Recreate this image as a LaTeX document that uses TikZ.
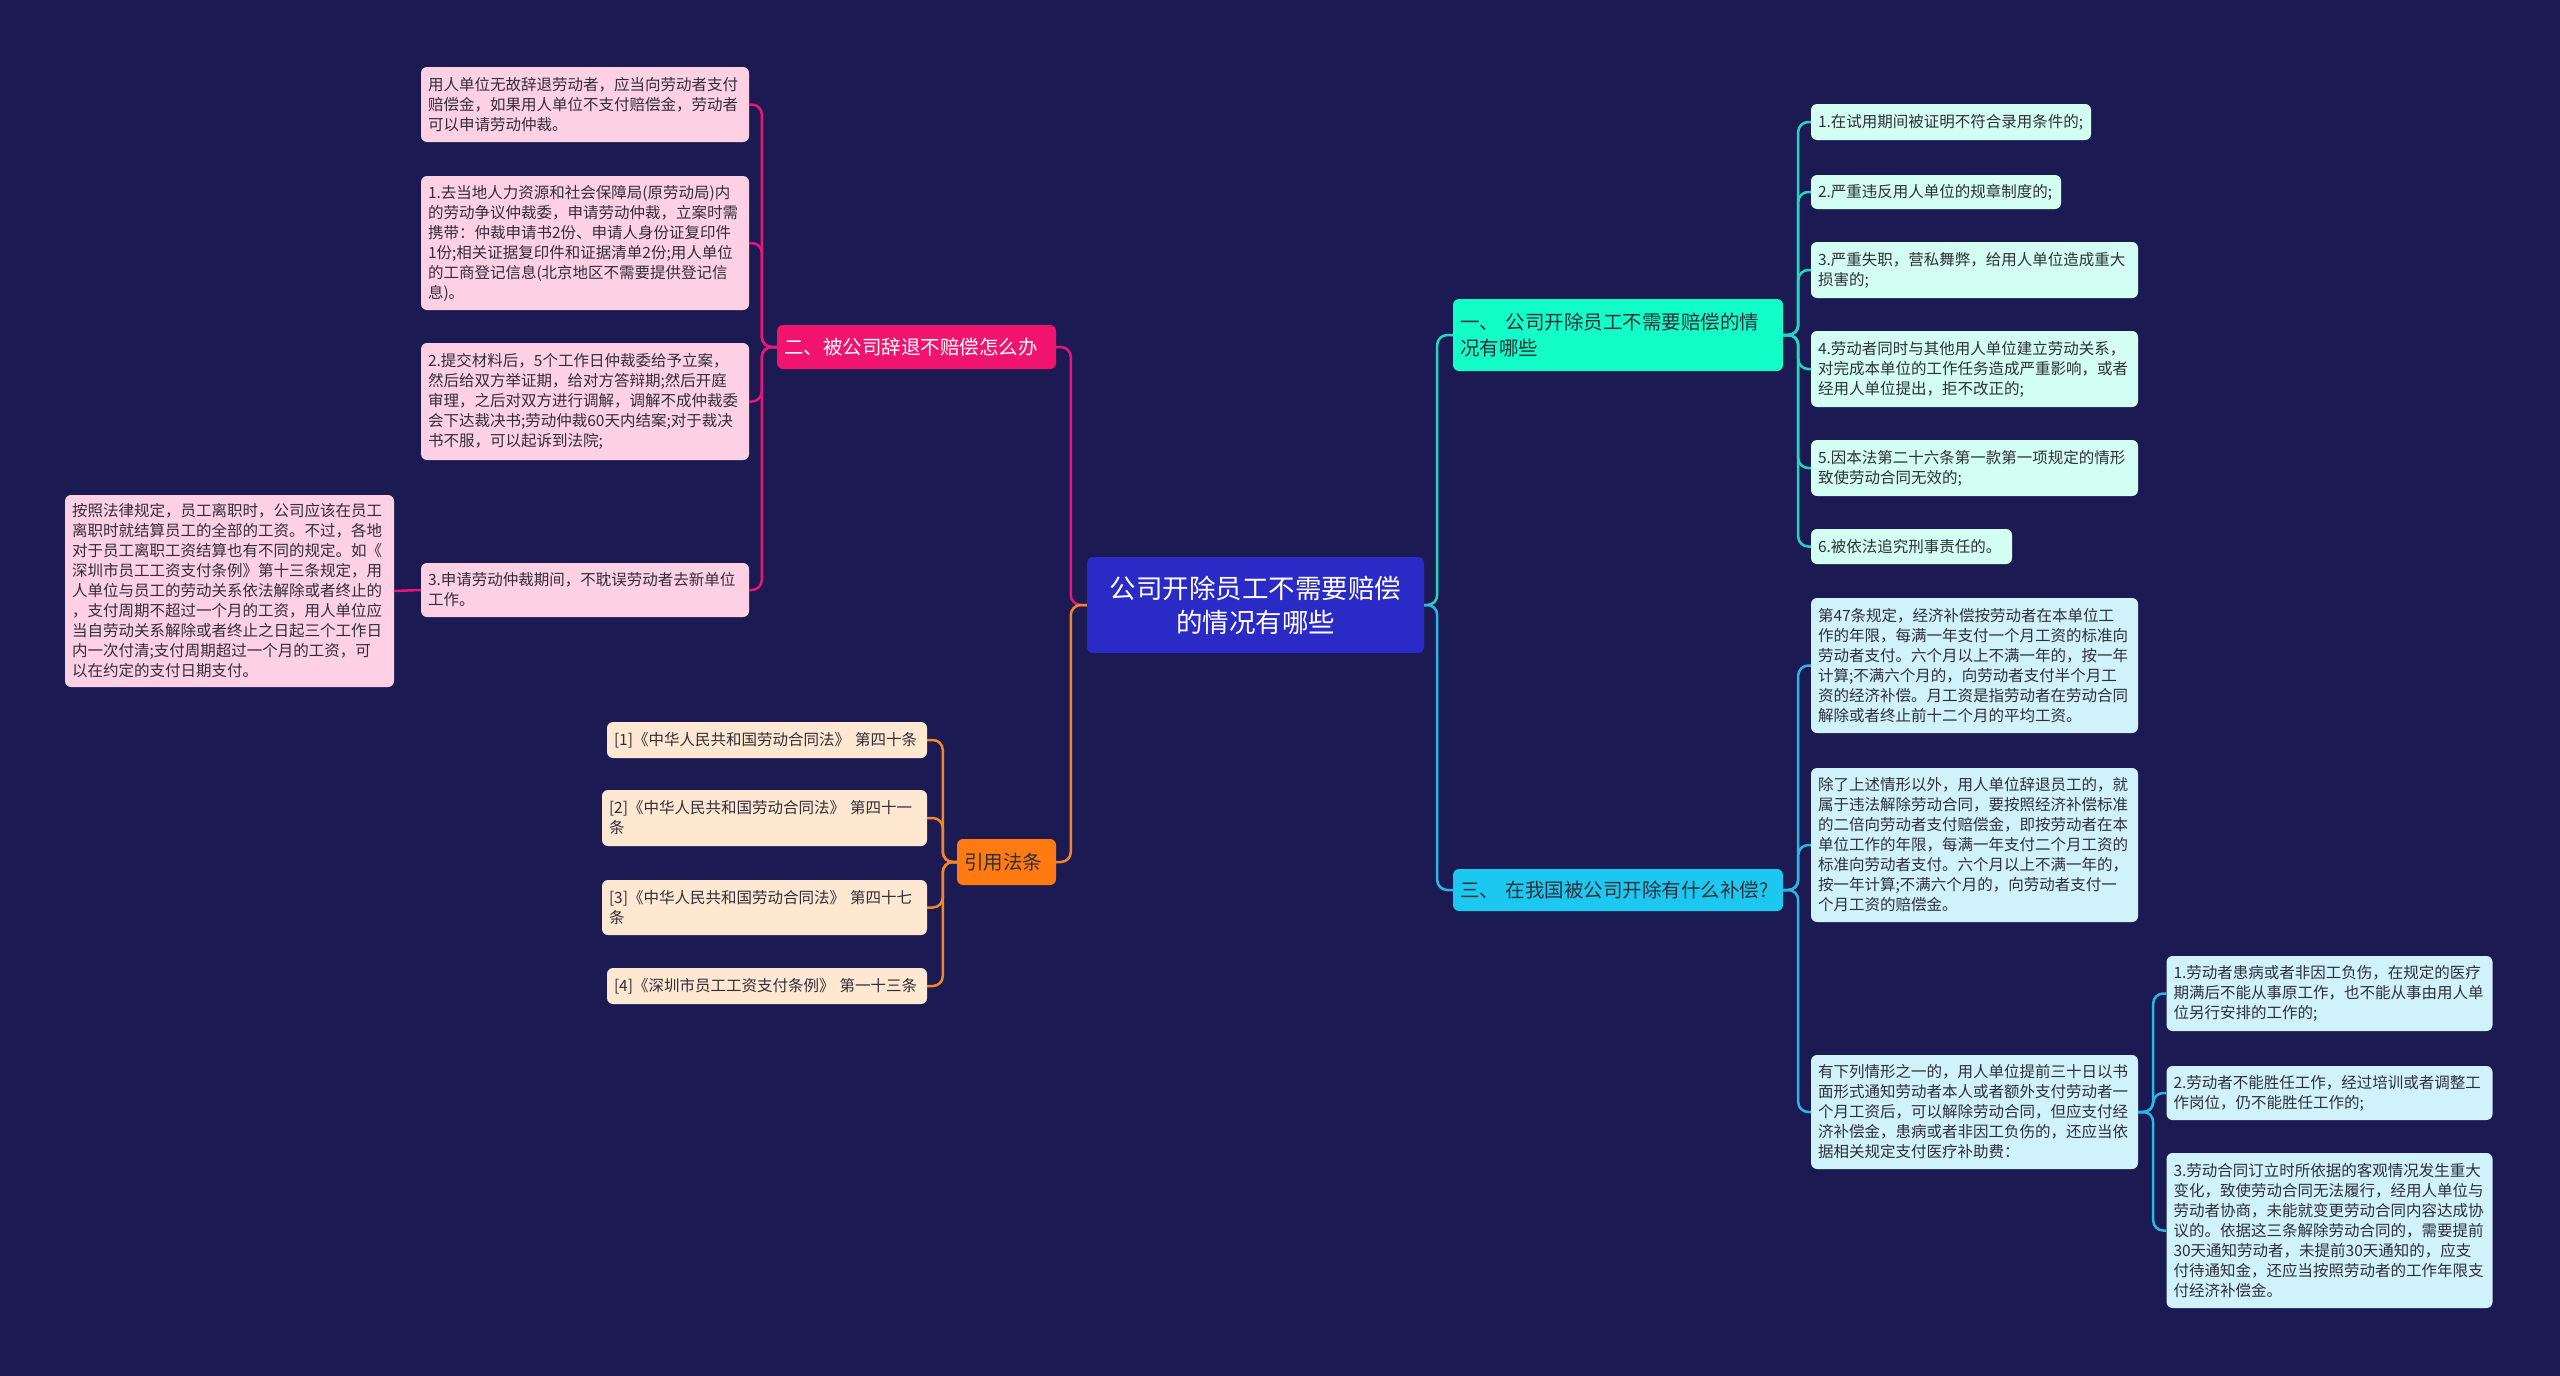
\documentclass[tikz,border=0pt]{standalone}
\usepackage{fontspec}
\setmainfont{Noto Sans CJK SC}
\definecolor{bg}{HTML}{1B1A52}
\definecolor{ctrfill}{HTML}{2A2AC6}
\definecolor{pinkbr}{HTML}{F0146E}
\definecolor{pinkleaf}{HTML}{FDD0E4}
\definecolor{pinkln}{HTML}{E8157A}
\definecolor{orbr}{HTML}{FF7A10}
\definecolor{orleaf}{HTML}{FFE8D2}
\definecolor{orln}{HTML}{F2862A}
\definecolor{aqbr}{HTML}{12FDC8}
\definecolor{aqleaf}{HTML}{D2FFF1}
\definecolor{aqln}{HTML}{22D6C2}
\definecolor{cybr}{HTML}{1CC8F0}
\definecolor{cyleaf}{HTML}{CFF2FB}
\definecolor{cyln}{HTML}{2AB6E6}
\definecolor{txtdark}{HTML}{2F2F3A}
\tikzset{
  base/.style={rectangle, rounded corners=6pt, inner xsep=7pt, inner ysep=3pt,
    align=left, font=\fontsize{15.5}{20}\selectfont, text=txtdark},
  pleaf/.style={base, fill=pinkleaf},
  oleaf/.style={base, fill=orleaf},
  aleaf/.style={base, fill=aqleaf},
  cleaf/.style={base, fill=cyleaf},
  brbase/.style={base, font=\fontsize{19.5}{26}\selectfont},
  ctrnode/.style={rectangle, rounded corners=6pt, fill=ctrfill, text=white, align=center,
    inner xsep=7pt, font=\fontsize{26.5}{34}\selectfont},
  conn/.style={line width=2.5pt, rounded corners=10pt},
  pconn/.style={conn, draw=pinkln},
  oconn/.style={conn, draw=orln},
  aconn/.style={conn, draw=aqln},
  cconn/.style={conn, draw=cyln},
}
\begin{document}
\begin{tikzpicture}[x=1pt,y=-1pt]
\fill[bg] (0,0) rectangle (2560,1376);
\useasboundingbox (0,0) rectangle (2560,1376);

% center
\node[ctrnode, text width=323pt, minimum height=96pt] (ctr) at (1255.5,605) {公司开除员工不需要赔偿\\的情况有哪些};

% branches
\node[brbase, fill=pinkbr, text=white, text width=265pt, minimum height=44pt] (br2) at (916.5,347) {二、被公司辞退不赔偿怎么办};
\node[brbase, fill=orbr, text=txtdark, text width=85pt, minimum height=46pt] (br4) at (1006.5,862) {引用法条};
\node[brbase, fill=aqbr, text=txtdark, text width=316pt, minimum height=72pt] (br1) at (1618,335) {一、~公司开除员工不需要赔偿的情\\况有哪些};
\node[brbase, fill=cybr, text=txtdark, text width=316pt, minimum height=42pt] (br3) at (1618,890) {三、~在我国被公司开除有什么补偿?};

% pink leaves
\node[pleaf, text width=314pt, minimum height=75pt] (a1) at (585,104.5) {用人单位无故辞退劳动者，应当向劳动者支付\\赔偿金，如果用人单位不支付赔偿金，劳动者\\可以申请劳动仲裁。};
\node[pleaf, text width=314pt, minimum height=134pt] (a2) at (585,243) {1.去当地人力资源和社会保障局(原劳动局)内\\的劳动争议仲裁委，申请劳动仲裁，立案时需\\携带：仲裁申请书2份、申请人身份证复印件\\1份;相关证据复印件和证据清单2份;用人单位\\的工商登记信息(北京地区不需要提供登记信\\息)。};
\node[pleaf, text width=314pt, minimum height=117pt] (a3) at (585,401.5) {2.提交材料后，5个工作日仲裁委给予立案，\\然后给双方举证期，给对方答辩期;然后开庭\\审理，之后对双方进行调解，调解不成仲裁委\\会下达裁决书;劳动仲裁60天内结案;对于裁决\\书不服，可以起诉到法院;};
\node[pleaf, text width=314pt, minimum height=54pt] (a4) at (585,590) {3.申请劳动仲裁期间，不耽误劳动者去新单位\\工作。};
\node[pleaf, text width=315pt, minimum height=192pt] (a5) at (229.5,591) {按照法律规定，员工离职时，公司应该在员工\\离职时就结算员工的全部的工资。不过，各地\\对于员工离职工资结算也有不同的规定。如《\\深圳市员工工资支付条例》第十三条规定，用\\人单位与员工的劳动关系依法解除或者终止的\\，支付周期不超过一个月的工资，用人单位应\\当自劳动关系解除或者终止之日起三个工作日\\内一次付清;支付周期超过一个月的工资，可\\以在约定的支付日期支付。};

% orange leaves
\node[oleaf, text width=306pt, minimum height=36pt] (e1) at (767,740) {[1]《中华人民共和国劳动合同法》~第四十条};
\node[oleaf, text width=311pt, minimum height=56pt] (e2) at (764.5,818) {[2]《中华人民共和国劳动合同法》~第四十一\\条};
\node[oleaf, text width=311pt, minimum height=55pt] (e3) at (764.5,907.5) {[3]《中华人民共和国劳动合同法》~第四十七\\条};
\node[oleaf, text width=306pt, minimum height=36pt] (e4) at (767,986) {[4]《深圳市员工工资支付条例》~第一十三条};

% aqua leaves
\node[aleaf, text width=266pt, minimum height=36pt] (b1) at (1951,122) {1.在试用期间被证明不符合录用条件的;};
\node[aleaf, text width=236pt, minimum height=34pt] (b2) at (1936,192) {2.严重违反用人单位的规章制度的;};
\node[aleaf, text width=313pt, minimum height=56pt] (b3) at (1974.5,270) {3.严重失职，营私舞弊，给用人单位造成重大\\损害的;};
\node[aleaf, text width=313pt, minimum height=76pt] (b4) at (1974.5,369) {4.劳动者同时与其他用人单位建立劳动关系，\\对完成本单位的工作任务造成严重影响，或者\\经用人单位提出，拒不改正的;};
\node[aleaf, text width=313pt, minimum height=56pt] (b5) at (1974.5,468) {5.因本法第二十六条第一款第一项规定的情形\\致使劳动合同无效的;};
\node[aleaf, text width=187pt, minimum height=35pt] (b6) at (1911.5,546.5) {6.被依法追究刑事责任的。};

% cyan leaves
\node[cleaf, text width=313pt, minimum height=135pt] (c1) at (1974.5,665.5) {第47条规定，经济补偿按劳动者在本单位工\\作的年限，每满一年支付一个月工资的标准向\\劳动者支付。六个月以上不满一年的，按一年\\计算;不满六个月的，向劳动者支付半个月工\\资的经济补偿。月工资是指劳动者在劳动合同\\解除或者终止前十二个月的平均工资。};
\node[cleaf, text width=313pt, minimum height=154pt] (c2) at (1974.5,845) {除了上述情形以外，用人单位辞退员工的，就\\属于违法解除劳动合同，要按照经济补偿标准\\的二倍向劳动者支付赔偿金，即按劳动者在本\\单位工作的年限，每满一年支付二个月工资的\\标准向劳动者支付。六个月以上不满一年的，\\按一年计算;不满六个月的，向劳动者支付一\\个月工资的赔偿金。};
\node[cleaf, text width=313pt, minimum height=114pt] (c3) at (1974.5,1112) {有下列情形之一的，用人单位提前三十日以书\\面形式通知劳动者本人或者额外支付劳动者一\\个月工资后，可以解除劳动合同，但应支付经\\济补偿金，患病或者非因工负伤的，还应当依\\据相关规定支付医疗补助费：};
\node[cleaf, text width=312pt, minimum height=75pt] (d1) at (2329.5,993.5) {1.劳动者患病或者非因工负伤，在规定的医疗\\期满后不能从事原工作，也不能从事由用人单\\位另行安排的工作的;};
\node[cleaf, text width=312pt, minimum height=54pt] (d2) at (2329.5,1093) {2.劳动者不能胜任工作，经过培训或者调整工\\作岗位，仍不能胜任工作的;};
\node[cleaf, text width=312pt, minimum height=155pt] (d3) at (2329.5,1230.5) {3.劳动合同订立时所依据的客观情况发生重大\\变化，致使劳动合同无法履行，经用人单位与\\劳动者协商，未能就变更劳动合同内容达成协\\议的。依据这三条解除劳动合同的，需要提前\\30天通知劳动者，未提前30天通知的，应支\\付待通知金，还应当按照劳动者的工作年限支\\付经济补偿金。};

% connectors
\draw[pconn] (ctr.west) -- ++(-16,0) |- (br2.east);
\draw[oconn] (ctr.west) -- ++(-16,0) |- (br4.east);
\draw[aconn] (ctr.east) -- ++(13,0) |- (br1.west);
\draw[cconn] (ctr.east) -- ++(13,0) |- (br3.west);
\foreach \n in {a1,a2,a3,a4} \draw[pconn] (br2.west) -- ++(-15,0) |- (\n.east);
\draw[pconn] (a4.west) -- (a5.east);
\foreach \n in {e1,e2,e3,e4} \draw[oconn] (br4.west) -- ++(-14,0) |- (\n.east);
\foreach \n in {b1,b2,b3,b4,b5,b6} \draw[aconn] (br1.east) -- ++(15,0) |- (\n.west);
\foreach \n in {c1,c2,c3} \draw[cconn] (br3.east) -- ++(15,0) |- (\n.west);
\foreach \n in {d1,d2,d3} \draw[cconn] (c3.east) -- ++(15,0) |- (\n.west);
\end{tikzpicture}
\end{document}
